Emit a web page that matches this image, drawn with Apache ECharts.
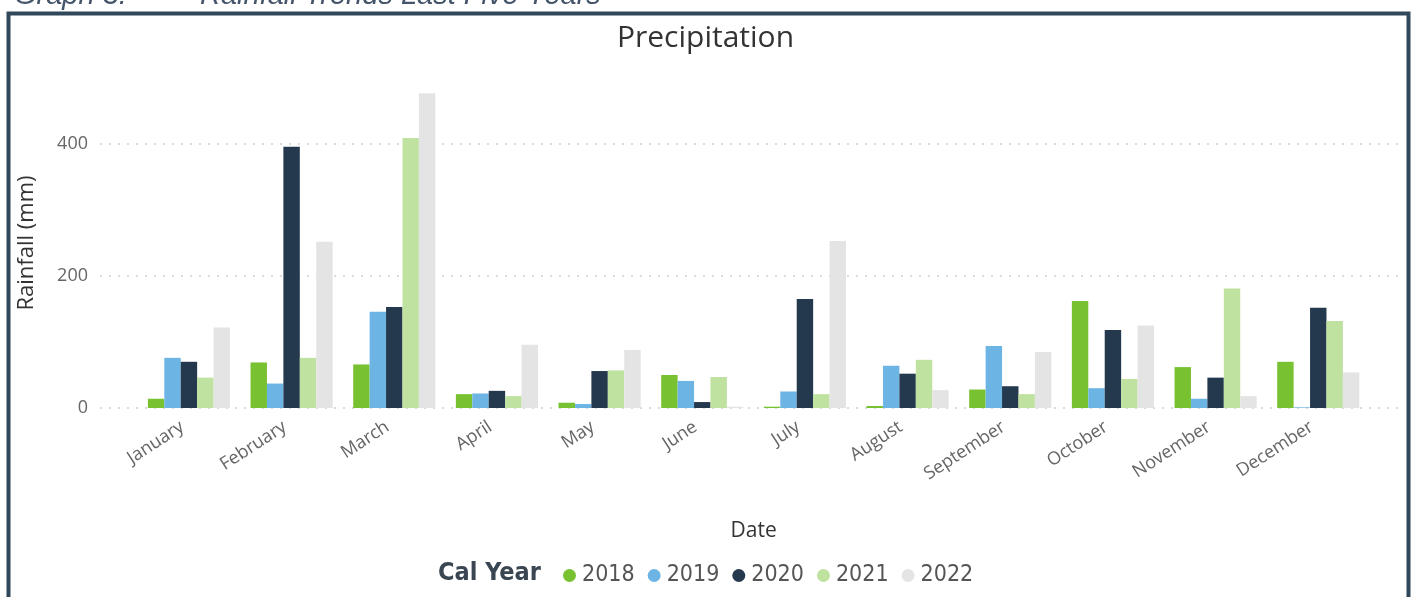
<!DOCTYPE html>
<html>
<head>
<meta charset="utf-8">
<script src="https://cdn.jsdelivr.net/npm/echarts@6/dist/echarts.min.js"></script>
<style>
  html, body { margin: 0; padding: 0; background: #ffffff; }
  #chart { width: 1411px; height: 597px; }
</style>
</head>
<body>
<div id="chart"></div>
<script>
// Monthly rainfall (mm) per calendar year
const months = ['January', 'February', 'March', 'April', 'May', 'June',
                'July', 'August', 'September', 'October', 'November', 'December'];
const years = ['2018', '2019', '2020', '2021', '2022'];
const rain2018 = [14, 69, 66, 21, 8, 50, 2, 3, 28, 162, 62, 70];
const rain2019 = [76, 37, 146, 22, 6, 41, 25, 64, 94, 30, 14, 1];
const rain2020 = [70, 396, 153, 26, 56, 9, 165, 52, 33, 118, 46, 152];
const rain2021 = [46, 76, 409, 18, 57, 47, 21, 73, 21, 44, 181, 132];
const rain2022 = [122, 252, 477, 96, 88, 2, 253, 27, 85, 125, 18, 54];
const yTicks = [0, 200, 400];

const yearColors = ['#78c232', '#6cb4e4', '#24394d', '#bfe2a0', '#e4e4e4'];
const rainByYear = [rain2018, rain2019, rain2020, rain2021, rain2022];

const uiFont = "'Open Sans', 'Noto Sans', sans-serif";
const legendFont = "'DejaVu Sans Condensed', 'Liberation Sans', sans-serif";

const yMax = 500;
const yStep = yTicks[1] - yTicks[0];

const chart = echarts.init(document.getElementById('chart'), null, { renderer: 'canvas' });

const option = {
  backgroundColor: '#ffffff',
  animation: false,
  title: {
    text: 'Precipitation',
    left: 'center',
    top: 18,
    textStyle: { fontFamily: uiFont, fontSize: 30, fontWeight: 'normal', color: '#333333' }
  },
  graphic: [
    // document caption above the framed chart
    {
      type: 'text', left: 14, top: -19,
      style: { text: 'Graph 3:', font: "italic 29px 'Liberation Sans', Arial, sans-serif", fill: '#44546a' }
    },
    {
      type: 'text', left: 200, top: -19,
      style: { text: 'Rainfall Trends Last Five Years', font: "italic 29px 'Liberation Sans', Arial, sans-serif", fill: '#44546a' }
    },
    // frame
    {
      type: 'rect', left: 6, top: 11, z: 100,
      shape: { width: 1400, height: 620 },
      style: { fill: 'none', stroke: '#30485a', lineWidth: 4 }
    },
    // legend heading
    {
      type: 'text', left: 438, top: 561, z: 10,
      style: {
        text: 'Cal Year', fontFamily: legendFont, fontSize: 25, fontWeight: 'bold',
        fill: '#3a4652'
      }
    }
  ],
  legend: {
    data: years,
    left: 558,
    top: 559,
    icon: 'circle',
    itemWidth: 15,
    itemHeight: 13,
    itemGap: 13,
    selectedMode: false,
    textStyle: { fontFamily: legendFont, fontSize: 23, color: '#555555' }
  },
  grid: [
    // full-width frame for the value gridlines
    { left: 100, right: 13, top: 78, bottom: 189, containLabel: false },
    // category band for the bars
    { left: 137.6, right: 41.4, top: 78, bottom: 189, containLabel: false }
  ],
  xAxis: [
    { type: 'value', gridIndex: 0, min: 0, max: 1, show: false },
    {
      type: 'category', gridIndex: 1, data: months,
      axisLine: { show: false }, axisTick: { show: false },
      axisLabel: {
        rotate: 33, margin: 13, interval: 0, padding: [0, 8, 0, 0],
        fontFamily: uiFont, fontSize: 18, color: '#666666'
      },
      name: 'Date', nameLocation: 'middle', nameGap: 113,
      nameTextStyle: { fontFamily: uiFont, fontSize: 21, color: '#333333' }
    }
  ],
  yAxis: [
    {
      type: 'value', gridIndex: 0, min: 0, max: yMax, interval: yStep,
      axisLine: { show: false }, axisTick: { show: false },
      axisLabel: {
        showMaxLabel: false, margin: 12,
        fontFamily: uiFont, fontSize: 18, color: '#666666'
      },
      splitLine: {
        show: true, showMinLine: true, showMaxLine: false,
        lineStyle: { color: '#cfcfcf', width: 1.5, type: [2, 7] }
      },
      name: 'Rainfall (mm)', nameLocation: 'middle', nameGap: 62, nameRotate: 90,
      nameTextStyle: { fontFamily: uiFont, fontSize: 22, color: '#333333' }
    },
    { type: 'value', gridIndex: 1, min: 0, max: yMax, show: false }
  ],
  series: years.map((yr, i) => ({
    name: yr,
    type: 'bar',
    xAxisIndex: 1,
    yAxisIndex: 1,
    data: rainByYear[i],
    barGap: '0%',
    barCategoryGap: '20%',
    itemStyle: { color: yearColors[i] }
  }))
};

chart.setOption(option);
</script>
</body>
</html>
